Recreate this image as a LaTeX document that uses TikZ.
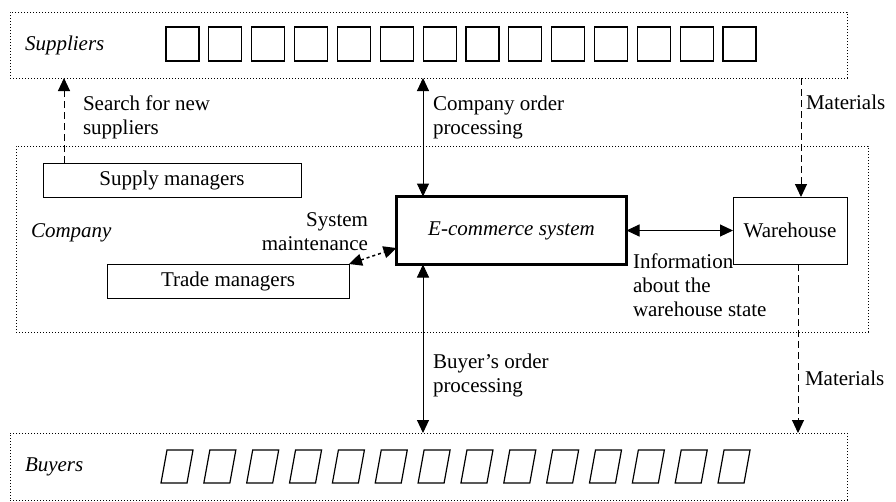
\documentclass[tikz,border=0pt]{standalone}
\usepackage{fontspec}
\setmainfont{Liberation Serif}
\usetikzlibrary{arrows.meta,calc}
\begin{document}
\begin{tikzpicture}[x=1pt,y=-1pt,
  every node/.style={inner sep=0pt,outer sep=0pt,font=\fontsize{21}{24}\selectfont},
  region/.style={draw,line width=0.9pt,dash pattern=on 1pt off 2pt,rectangle},
  box/.style={draw,line width=1pt,rectangle},
  mainbox/.style={draw,line width=3.5pt,rectangle},
  unit/.style={draw,line width=1.2pt,rectangle,minimum width=33pt,minimum height=34pt},
  lbl/.style={align=left,anchor=west},
  tip/.style={-{Triangle[length=13pt,width=12pt]}},
  tips/.style={{Triangle[length=13pt,width=12pt]}-{Triangle[length=13pt,width=12pt]}},
  flow/.style={line width=1pt},
  dflow/.style={line width=1pt,dash pattern=on 7pt off 4pt},
  pflow/.style={line width=1.5pt,dash pattern=on 3pt off 3pt}]
\useasboundingbox (0,0) rectangle (896,501);
% regions
\node[region,minimum width=837pt,minimum height=66pt] (sup) at (428.5,45) {};
\node[region,minimum width=852pt,minimum height=186pt] (comp) at (442,239) {};
\node[region,minimum width=837pt,minimum height=67pt] (buy) at (428.5,466.5) {};
\node[anchor=west] (supl) at (25,45) {\itshape Suppliers};
\node[anchor=west] (compl) at (31,233) {\itshape Company};
\node[anchor=west] (buyl) at (25,467) {\itshape Buyers};
% supplier squares
\foreach \i in {0,...,13} {
  \node[unit] (s\i) at ({182.5+42.85*\i},44) {};
}
% buyer parallelograms
\foreach \i in {0,...,13} {
  \draw[line width=1.2pt] ({161+42.85*\i},483) -- ({167+42.85*\i},450) -- ({193+42.85*\i},450) -- ({187+42.85*\i},483) -- cycle;
}
% inner boxes
\node[box,minimum width=258pt,minimum height=34pt] (sm) at (172,180) {Supply managers};
\node[box,minimum width=242pt,minimum height=34pt] (tm) at (228,281) {Trade managers};
\node[mainbox,minimum width=230pt,minimum height=68pt] (ec) at (511.5,230.5) {\itshape E-commerce system};
\node[box,minimum width=114pt,minimum height=67pt] (wh) at (790,230.5) {Warehouse};
% helper coordinates
\coordinate (xs) at (64,0);
\coordinate (xo) at (423,0);
\coordinate (xm1) at (801,0);
\coordinate (xm2) at (798,0);
\coordinate (ym) at (0,248);
% connectors
\draw[dflow,tip] (sm.north -| xs) -- (sup.south -| xs);
\draw[flow,tips] (sup.south -| xo) -- (ec.north -| xo);
\draw[dflow,tip] (sup.south -| xm1) -- (wh.north -| xm1);
\draw[flow,tips] (ec.east) -- (wh.west);
\draw[pflow,tips] (tm.north east) -- (ec.west |- ym);
\draw[flow,tips] (ec.south -| xo) -- (buy.north -| xo);
\draw[dflow,tip] (wh.south -| xm2) -- (buy.north -| xm2);
% labels
\node[lbl] (l1) at (83,117) {Search for new\\suppliers};
\node[lbl] (l2) at (433,117) {Company order\\processing};
\node[lbl] (l3) at (806,102) {Materials};
\node[lbl] (l4) at (633,285) {Information\\about the\\warehouse state};
\node[align=right,anchor=east] (l5) at (368,232) {System\\maintenance};
\node[lbl] (l6) at (433,375) {Buyer’s order\\processing};
\node[lbl] (l7) at (805,378) {Materials};
\end{tikzpicture}
\end{document}
